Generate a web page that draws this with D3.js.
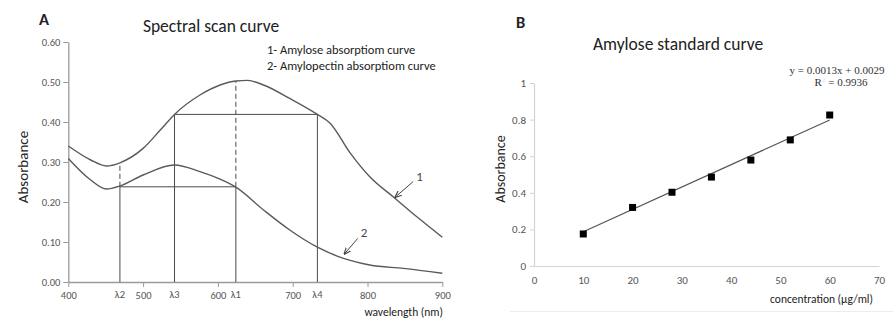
<!DOCTYPE html>
<html>
<head>
<meta charset="utf-8">
<script src="https://cdn.jsdelivr.net/npm/d3@7"></script>
<style>
  html, body { margin: 0; padding: 0; background: #fff; }
  svg { display: block; }
  text { font-family: Carlito, Lato, "Open Sans", sans-serif; }
</style>
</head>
<body>
<svg id="chart" width="893" height="323"></svg>
<script>
// ---- Panel A: spectral scan (wavelength in nm, absorbance) ----
const amyloseWl   = [400, 430, 451, 469, 500, 523, 542, 576, 603, 624, 640, 661, 696, 733, 750, 777, 803, 835, 866, 900];
const amyloseAbs  = [0.340, 0.305, 0.290, 0.298, 0.334, 0.380, 0.419, 0.4675, 0.4925, 0.5025, 0.504, 0.4925, 0.459, 0.419, 0.397, 0.322, 0.263, 0.212, 0.163, 0.112];
const amylopectinWl  = [400, 430, 451, 469, 500, 542, 576, 603, 624, 661, 696, 733, 768, 803, 848, 900];
const amylopectinAbs = [0.309, 0.255, 0.2325, 0.240, 0.2675, 0.2925, 0.276, 0.257, 0.237, 0.180, 0.130, 0.087, 0.059, 0.0425, 0.034, 0.022];
const wlTicks  = [400, 500, 600, 700, 800, 900];
const absTicks = [0, 0.1, 0.2, 0.3, 0.4, 0.5, 0.6];
const lambdaLabels = ["λ2", "λ3", "λ1", "λ4"];
const lambdaWl     = [469, 542, 624, 733];
const levelHigh = 0.419;   // amylose absorbance at λ3 and λ4
const levelLow  = 0.238;   // amylopectin absorbance at λ2 and λ1
const peakAbs   = 0.5025;  // amylose absorbance at λ1
const amyloseAtL2 = 0.298;
const legendLines = ["1- Amylose absorptiom curve", "2- Amylopectin absorptiom curve"];
const curveTags     = ["1", "2"];
const tagTailWl     = [861, 787];
const tagTailAbs    = [0.251, 0.109];
const tagHeadWl     = [837, 769];
const tagHeadAbs    = [0.212, 0.070];

// ---- Panel B: amylose standard curve ----
const concentration = [10, 20, 28, 36, 44, 52, 60];
const standardAbs   = [0.175, 0.320, 0.403, 0.486, 0.579, 0.689, 0.825];
const fitConc = [10, 60];
const fitAbs  = [0.187, 0.798];
const concTicks = [0, 10, 20, 30, 40, 50, 60, 70];
const stdTicks  = [0, 0.2, 0.4, 0.6, 0.8, 1];
const equationText = "y = 0.0013x + 0.0029";
const r2Value = "0.9936";

const svg = d3.select("#chart");

// ================= Panel A =================
const xA = d3.scaleLinear().domain([400, 900]).range([68.3, 442.3]);
const yA = d3.scaleLinear().domain([0, 0.6]).range([282, 42]);
const gA = svg.append("g");

// axes
const axA_y = gA.append("g").attr("transform", `translate(${xA(400)},0)`)
  .call(d3.axisLeft(yA).tickValues(absTicks).tickFormat(d3.format(".2f")).tickSize(5).tickSizeOuter(0));
const axA_x = gA.append("g").attr("transform", `translate(0,${yA(0)})`)
  .call(d3.axisBottom(xA).tickValues(wlTicks).tickFormat(d3.format("d")).tickSize(5).tickSizeOuter(0));
[axA_y, axA_x].forEach(ax => {
  ax.select(".domain").attr("stroke", "#9a9a9a").attr("stroke-width", 1.3);
  ax.selectAll(".tick line").attr("stroke", "#9a9a9a");
  ax.selectAll(".tick text").attr("fill", "#555").style("font-size", "10.5px")
    .style("font-family", "Carlito, Lato, sans-serif");
});
axA_y.selectAll(".tick text").attr("x", -8);
axA_x.selectAll(".tick text").attr("y", 10);

// λ labels under the axis
gA.selectAll("text.lam").data(lambdaWl).join("text")
  .attr("class", "lam")
  .attr("x", d => xA(d)).attr("y", yA(0) + 16)
  .attr("text-anchor", "middle").attr("fill", "#555").style("font-size", "10.5px")
  .text((d, i) => lambdaLabels[i]);

// vertical construction lines
const refColor = "#4a4a4a";
function vline(wl, a0, a1, dashed) {
  gA.append("line")
    .attr("x1", xA(wl)).attr("x2", xA(wl)).attr("y1", yA(a0)).attr("y2", yA(a1))
    .attr("stroke", refColor).attr("stroke-width", 1)
    .attr("stroke-dasharray", dashed ? "5,3" : null);
}
vline(lambdaWl[0], 0, levelLow, false);
vline(lambdaWl[0], levelLow, amyloseAtL2, true);
vline(lambdaWl[1], 0, levelHigh, false);
vline(lambdaWl[2], 0, levelLow, false);
vline(lambdaWl[2], levelLow, peakAbs, true);
vline(lambdaWl[3], 0, levelHigh, false);
// horizontal construction lines
gA.append("line").attr("x1", xA(lambdaWl[1])).attr("x2", xA(lambdaWl[3]))
  .attr("y1", yA(levelHigh)).attr("y2", yA(levelHigh)).attr("stroke", refColor).attr("stroke-width", 1);
gA.append("line").attr("x1", xA(lambdaWl[0])).attr("x2", xA(lambdaWl[2]))
  .attr("y1", yA(levelLow)).attr("y2", yA(levelLow)).attr("stroke", refColor).attr("stroke-width", 1);

// absorption curves
const lineA = d3.line().x(d => xA(d[0])).y(d => yA(d[1])).curve(d3.curveMonotoneX);
gA.append("path").datum(d3.zip(amyloseWl, amyloseAbs)).attr("d", lineA)
  .attr("fill", "none").attr("stroke", "#5a5a5a").attr("stroke-width", 1.4);
gA.append("path").datum(d3.zip(amylopectinWl, amylopectinAbs)).attr("d", lineA)
  .attr("fill", "none").attr("stroke", "#5a5a5a").attr("stroke-width", 1.4);

// curve tags with arrows
const defs = svg.append("defs");
defs.append("marker").attr("id", "arrowHead").attr("viewBox", "0 0 10 10")
  .attr("refX", 9).attr("refY", 5).attr("markerWidth", 7).attr("markerHeight", 7)
  .attr("orient", "auto-start-reverse")
  .append("path").attr("d", "M0,1 L10,5 L0,9").attr("fill", "none").attr("stroke", "#444").attr("stroke-width", 1.6);
curveTags.forEach((t, i) => {
  const x1 = xA(tagTailWl[i]), y1 = yA(tagTailAbs[i]);
  const x2 = xA(tagHeadWl[i]), y2 = yA(tagHeadAbs[i]);
  gA.append("line").attr("x1", x1).attr("y1", y1).attr("x2", x2).attr("y2", y2)
    .attr("stroke", "#444").attr("stroke-width", 1).attr("marker-end", "url(#arrowHead)");
  gA.append("text").attr("x", x1 + 3).attr("y", y1 - 1)
    .attr("fill", "#444").style("font-size", "13px").text(t);
});

// titles and labels
gA.append("text").attr("x", 39).attr("y", 25).style("font-size", "16.5px").style("font-weight", "bold")
  .attr("fill", "#222").text("A");
gA.append("text").attr("x", 211).attr("y", 32).attr("text-anchor", "middle")
  .style("font-size", "17.5px").attr("fill", "#222").text("Spectral scan curve");
gA.selectAll("text.legend").data(legendLines).join("text").attr("class", "legend")
  .attr("x", 267).attr("y", (d, i) => 54 + i * 16).style("font-size", "12.5px").attr("fill", "#222")
  .text(d => d);
gA.append("text").attr("transform", "translate(28,167) rotate(-90)").attr("text-anchor", "middle")
  .style("font-size", "15px").attr("fill", "#222").text("Absorbance");
gA.append("text").attr("x", 443).attr("y", 316).attr("text-anchor", "end")
  .style("font-size", "11.5px").attr("fill", "#222").text("wavelength (nm)");

// ================= Panel B =================
const xB = d3.scaleLinear().domain([0, 70]).range([534, 879]);
const yB = d3.scaleLinear().domain([0, 1]).range([266, 83]);
const gB = svg.append("g");

const axB_y = gB.append("g").attr("transform", `translate(${xB(0)},0)`)
  .call(d3.axisLeft(yB).tickValues(stdTicks).tickFormat(d3.format("~g")).tickSize(4).tickSizeOuter(0));
const axB_x = gB.append("g").attr("transform", `translate(0,${yB(0)})`)
  .call(d3.axisBottom(xB).tickValues(concTicks).tickSize(0).tickSizeOuter(0));
[axB_y, axB_x].forEach(ax => {
  ax.select(".domain").attr("stroke", "#d4d4d4").attr("stroke-width", 1.2);
  ax.selectAll(".tick line").attr("stroke", "#d4d4d4");
  ax.selectAll(".tick text").attr("fill", "#555").style("font-size", "11px")
    .style("font-family", "Carlito, Lato, sans-serif");
});
axB_y.selectAll(".tick text").attr("x", -8);
axB_x.selectAll(".tick text").attr("y", 10);

// fitted line
gB.append("line")
  .attr("x1", xB(fitConc[0])).attr("y1", yB(fitAbs[0]))
  .attr("x2", xB(fitConc[1])).attr("y2", yB(fitAbs[1]))
  .attr("stroke", "#555").attr("stroke-width", 1.2);

// standard points
const sq = 7;
gB.selectAll("rect.pt").data(d3.zip(concentration, standardAbs)).join("rect").attr("class", "pt")
  .attr("x", d => xB(d[0]) - sq / 2).attr("y", d => yB(d[1]) - sq / 2)
  .attr("width", sq).attr("height", sq).attr("fill", "#000");

// equation
const eq = gB.append("g").attr("fill", "#333");
eq.append("text").attr("x", 837).attr("y", 74).attr("text-anchor", "middle")
  .style("font-size", "11px").style("font-family", "'Liberation Serif', serif").text(equationText);
const r2 = eq.append("text").attr("x", 841).attr("y", 86).attr("text-anchor", "middle")
  .style("font-size", "11px").style("font-family", "'Liberation Serif', serif");
r2.append("tspan").text("R");
r2.append("tspan").attr("dy", -4).style("font-size", "7px").attr("fill", "#e4e4e4").text("2");
r2.append("tspan").attr("dy", 4).text(" = " + r2Value);

gB.append("text").attr("x", 516).attr("y", 28).style("font-size", "16.5px").style("font-weight", "bold")
  .attr("fill", "#222").text("B");
gB.append("text").attr("x", 678).attr("y", 50).attr("text-anchor", "middle")
  .style("font-size", "17.5px").attr("fill", "#222").text("Amylose standard curve");
gB.append("text").attr("transform", "translate(505,169) rotate(-90)").attr("text-anchor", "middle")
  .style("font-size", "14px").attr("fill", "#222").text("Absorbance");
gB.append("text").attr("x", 873).attr("y", 303).attr("text-anchor", "end")
  .style("font-size", "11.5px").attr("fill", "#222").text("concentration (µg/ml)");
// chart-area bottom border
gB.append("line").attr("x1", 510).attr("x2", 893).attr("y1", 311.5).attr("y2", 311.5)
  .attr("stroke", "#ececec").attr("stroke-width", 1);
</script>
</body>
</html>
